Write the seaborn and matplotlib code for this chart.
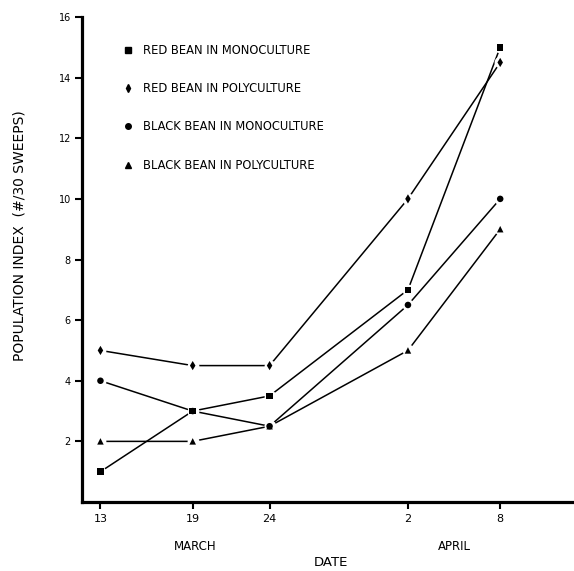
import matplotlib
matplotlib.use("Agg")
import matplotlib.pyplot as plt
import seaborn as sns
import pandas as pd
from matplotlib.lines import Line2D

# ---- data ----
days = [0, 6, 11, 20, 26]              # days since March 13
date_labels = ["13", "19", "24", "2", "8"]
red_mono = [1, 3, 3.5, 7, 15]
red_poly = [5, 4.5, 4.5, 10, 14.5]
black_mono = [4, 3, 2.5, 6.5, 10]
black_poly = [2, 2, 2.5, 5, 9]
series_names = ["RED BEAN IN MONOCULTURE", "RED BEAN IN POLYCULTURE",
                "BLACK BEAN IN MONOCULTURE", "BLACK BEAN IN POLYCULTURE"]
series_values = [red_mono, red_poly, black_mono, black_poly]
markers = ["s", "d", "o", "^"]
y_ticks = [2, 4, 6, 8, 10, 12, 14, 16]

rows = []
for name, vals in zip(series_names, series_values):
    for d, v in zip(days, vals):
        rows.append({"day": d, "value": v, "series": name})
df = pd.DataFrame(rows)

sns.set_theme(style="white")
plt.rcParams["font.family"] = ["DejaVu Sans"]
plt.rcParams["text.color"] = "black"

fig = plt.figure(figsize=(5.74, 5.71), dpi=100)
W, H = 574, 571
ax = fig.add_axes([82 / W, 1 - 502 / H, (574 - 82) / W, (502 - 17) / H])

# lines with white masks around each point (gaps like the original)
sns.lineplot(data=df, x="day", y="value", hue="series", style="series",
             markers=["o"] * 4, dashes=False,
             palette=["black"] * 4, hue_order=series_names, style_order=series_names,
             linewidth=1.1, markersize=8.5, markerfacecolor="white",
             markeredgecolor="white", markeredgewidth=0, ax=ax, legend=False)
# point markers on top
sns.scatterplot(data=df, x="day", y="value", style="series",
                markers=dict(zip(series_names, markers)), style_order=series_names,
                color="black", s=22, linewidth=0, ax=ax, legend=False, zorder=5)

ax.set_xlim(-1.2, 30.8)
ax.set_ylim(0, 16)
ax.set_xticks(days)
ax.set_xticklabels(date_labels, fontsize=8)
ax.set_yticks(y_ticks)
ax.set_yticklabels([str(t) for t in y_ticks], fontsize=7)
ax.set_xlabel("")
ax.set_ylabel("")
for s in ["top", "right"]:
    ax.spines[s].set_visible(False)
for s in ["left", "bottom"]:
    ax.spines[s].set_linewidth(2.3)
    ax.spines[s].set_color("black")
ax.tick_params(axis="y", direction="out", length=5, width=1.5, pad=3, left=True,
               colors="black", labelcolor="black")
ax.tick_params(axis="x", direction="out", length=5, width=1.5, pad=4, bottom=True,
               colors="black", labelcolor="black")

# legend
handles = [Line2D([], [], linestyle="none", marker=m, color="black",
                  markersize=4) for m in markers]
leg = ax.legend(handles, series_names, loc="upper left",
                bbox_to_anchor=(118 / W, 1 - 38 / H), bbox_transform=fig.transFigure,
                frameon=False, fontsize=8.3, labelspacing=2.2, handlelength=0.8,
                handletextpad=0.9, borderpad=0)
for t in leg.get_texts():
    t.set_color("black")

fig.text(195 / W, 1 - 547 / H, "MARCH", ha="center", va="center", fontsize=8.5)
fig.text(454 / W, 1 - 547 / H, "APRIL", ha="center", va="center", fontsize=8.5)
fig.text(331 / W, 1 - 563 / H, "DATE", ha="center", va="center", fontsize=9.5)
fig.text(20 / W, 1 - 236 / H, "POPULATION INDEX  (#/30 SWEEPS)", rotation=90,
         ha="center", va="center", fontsize=10)

fig.savefig("out.png", dpi=100)
